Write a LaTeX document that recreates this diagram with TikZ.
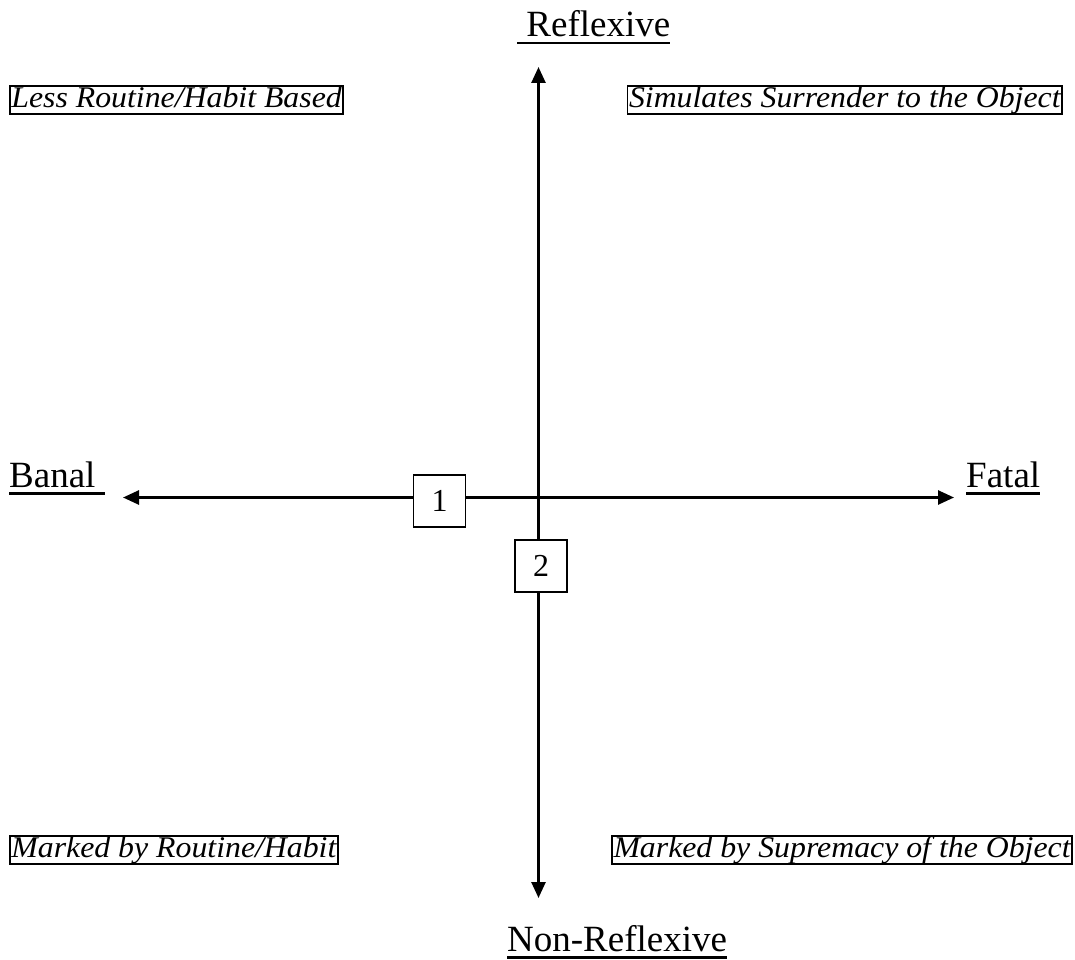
\documentclass[tikz,border=0pt]{standalone}
\usepackage{fontspec}
\setmainfont{Liberation Serif}
\usetikzlibrary{arrows.meta}

\newcommand{\ulabel}[1]{\setbox0\hbox{#1}\rlap{\rule[-7.5pt]{\wd0}{2.8pt}}\box0}

\begin{document}
\begin{tikzpicture}[x=1pt, y=-1pt]
    \useasboundingbox (0,0) rectangle (1075,960);

    \coordinate (top) at (538.5,67);
    \coordinate (bottom) at (538.5,898);
    \coordinate (left) at (123,497.5);
    \coordinate (right) at (954,497.5);

    \begin{scope}[every path/.style={line width=2.6pt, {Triangle[length=16pt,width=14pt]}-{Triangle[length=16pt,width=14pt]}}]
        \draw (left) -- (right);
        \draw (top) -- (bottom);
    \end{scope}

    \begin{scope}[every node/.style={anchor=base west, inner sep=0pt, font=\fontsize{37}{44}\selectfont}]
        \node (reflexive) at (517,37) {\ulabel{~Reflexive}};
        \node (banal) at (9,487) {\ulabel{Banal~}};
        \node (fatal) at (966,487) {\ulabel{Fatal}};
        \node (nonreflexive) at (507,951) {\ulabel{Non-Reflexive}};
    \end{scope}

    \begin{scope}[every node/.style={draw, line width=1.8pt, inner xsep=1.5pt, inner ysep=0pt, text height=21.5pt, text depth=6.5pt, font=\fontsize{30}{36}\selectfont\itshape}]
        \node[anchor=north west] (lesshabit) at (9,85) {\scalebox{1.06}[1]{Less Routine/Habit Based}};
        \node[anchor=north east] (surrender) at (1063,85) {\scalebox{1.06}[1]{Simulates Surrender to the Object}};
        \node[anchor=north west] (habit) at (9,835) {\scalebox{1.06}[1]{Marked by Routine/Habit}};
        \node[anchor=north east] (supremacy) at (1073,835) {\scalebox{1.06}[1]{Marked by Supremacy of the Object}};
    \end{scope}

    \begin{scope}[every node/.style={draw, fill=white, line width=1.8pt, minimum size=52pt, inner sep=0pt, font=\fontsize{32}{38}\selectfont}]
        \node (1) at (439.5,501) {1};
        \node (2) at (541,566) {2};
    \end{scope}
\end{tikzpicture}
\end{document}
